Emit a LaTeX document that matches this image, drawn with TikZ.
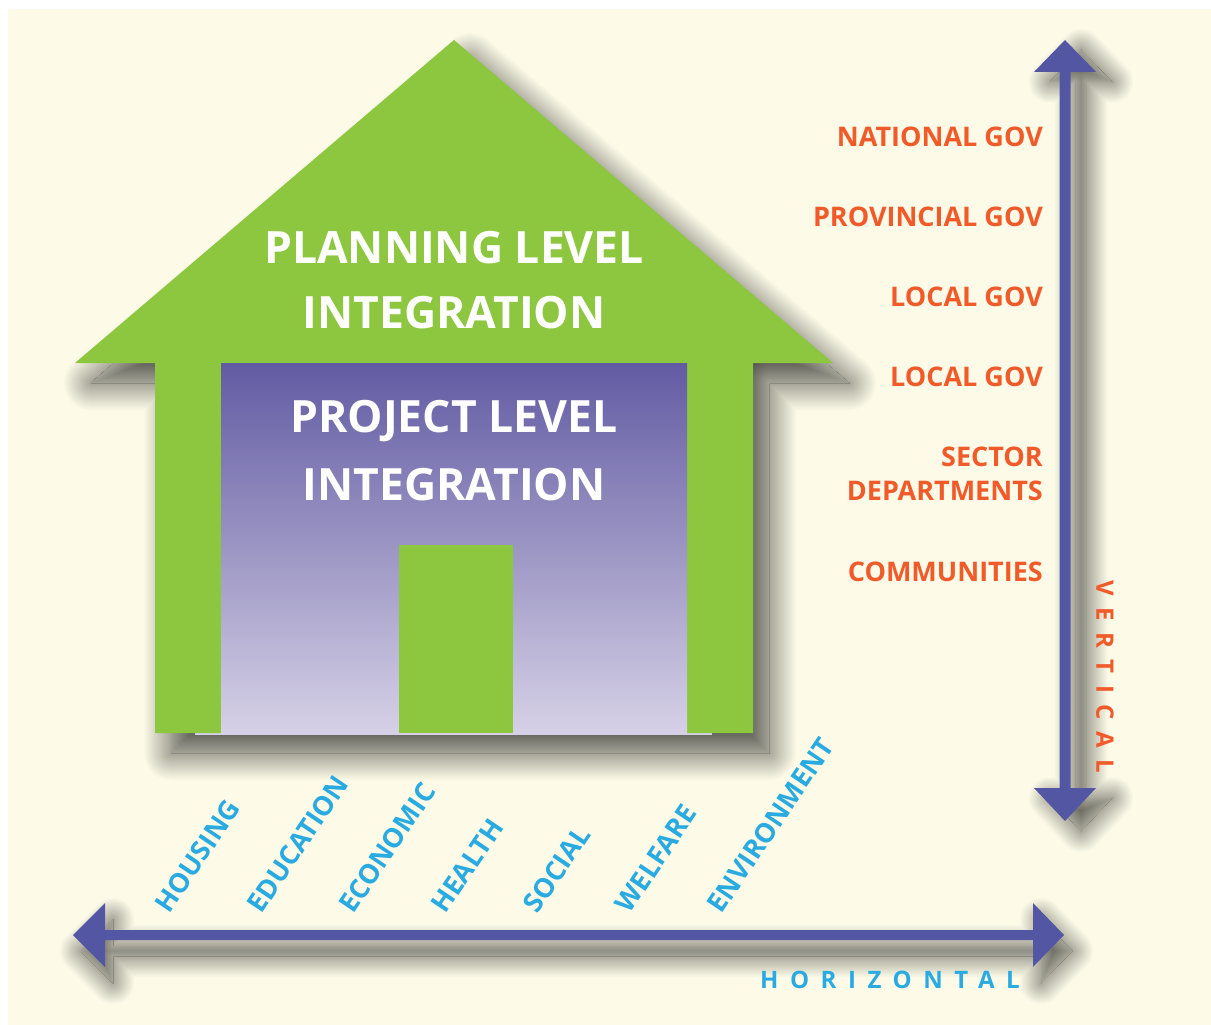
\documentclass[tikz,border=0pt]{standalone}
\usepackage{fontspec}
\setmainfont{Open Sans}
\definecolor{cream}{RGB}{253,251,232}
\definecolor{hgreen}{RGB}{141,198,63}
\definecolor{arrowblue}{RGB}{83,86,163}
\definecolor{ptop}{RGB}{98,91,163}
\definecolor{pbot}{RGB}{214,209,230}
\definecolor{orangetxt}{RGB}{241,90,41}
\definecolor{bluetxt}{RGB}{41,171,226}
% opaque soft shadow on the flat cream ground: #1 = blur radius, #2 = max darkness, #3 = path
\newcommand\softshadow[3]{%
  \foreach \r in {#1,...,1}{%
    \pgfmathsetmacro\lw{2*\r}%
    \pgfmathsetmacro\p{#2*(#1-\r)/(2*#1)}%
    \filldraw[draw=black!\p!cream,fill=black!\p!cream,line width=\lw pt,line join=round] #3;}
  \begin{scope}
    \clip #3;
    \fill[black!#2!cream] #3;
    \foreach \r in {#1,...,1}{%
      \pgfmathsetmacro\lw{2*\r}%
      \pgfmathsetmacro\p{#2*(#1+\r)/(2*#1)}%
      \draw[black!\p!cream,line width=\lw pt,line join=round] #3;}
  \end{scope}}
\begin{document}
\begin{tikzpicture}[x=1pt,y=-1pt,
  titletxt/.style={font=\fontsize{44.5}{54}\selectfont\bfseries,text=white,inner sep=0pt},
  lvl/.style={anchor=east,font=\fontsize{27}{34}\selectfont\bfseries,text=orangetxt,align=right,inner sep=0pt},
  cat/.style={rotate=56,anchor=south west,font=\fontsize{27}{30}\selectfont\bfseries,text=bluetxt,inner sep=0pt},
  axislbl/.style={font=\fontsize{24}{28}\selectfont\bfseries,inner sep=0pt},
  arrowfill/.style={fill=arrowblue}]
\useasboundingbox (0,0) rectangle (1211,1025);
\fill[cream] (8,9) rectangle (1211,1025);

% shadows
\begin{scope}[shift={(16,20)}]
\softshadow{28}{70}{(75,363) -- (454,40) -- (833,363) -- (753,363) -- (753,733) -- (155,733) -- (155,363) -- cycle}
\end{scope}
\begin{scope}[shift={(16,10)}]
\softshadow{22}{68}{(1065,40) -- (1096,72) -- (1070.5,72) -- (1070.5,788) -- (1096,788) -- (1065,821) -- (1034,788) -- (1059.5,788) -- (1059.5,72) -- (1034,72) -- cycle}
\end{scope}
\begin{scope}[shift={(8,16)}]
\softshadow{22}{68}{(73,935) -- (105,903) -- (105,930) -- (1033,930) -- (1033,903) -- (1064,935) -- (1033,967) -- (1033,940) -- (105,940) -- (105,967) -- cycle}
\end{scope}

% house
\fill[pbot] (195,731) rectangle (712,735);
\fill[hgreen] (75,363) -- (454,40) -- (833,363) -- (753,363) -- (753,733) -- (155,733) -- (155,363) -- cycle;
\shade[top color=ptop,bottom color=pbot] (221,363) rectangle (687,733);
\fill[hgreen] (399,545) rectangle (513,733);

% arrows
\fill[arrowfill] (1065,40) -- (1096,72) -- (1070.5,72) -- (1070.5,788) -- (1096,788) -- (1065,821) -- (1034,788) -- (1059.5,788) -- (1059.5,72) -- (1034,72) -- cycle;
\fill[arrowfill] (73,935) -- (105,903) -- (105,930) -- (1033,930) -- (1033,903) -- (1064,935) -- (1033,967) -- (1033,940) -- (105,940) -- (105,967) -- cycle;

% titles
\node[titletxt] (plan1) at (454,248) {PLANNING LEVEL};
\node[titletxt] (plan2) at (454,313) {INTEGRATION};
\node[titletxt] (proj1) at (454,421) {PROJECT LEVEL};
\node[titletxt] (proj2) at (454,485) {INTEGRATION};

% vertical levels
\node[lvl] (natgov) at (1043,137) {NATIONAL GOV};
\node[lvl] (provgov) at (1043,217) {PROVINCIAL GOV};
\node[lvl] (locgova) at (1043,297) {LOCAL GOV};
\node[lvl] (locgovb) at (1043,377) {LOCAL GOV};
\node[lvl] (sector) at (1043,474) {SECTOR\\DEPARTMENTS};
\node[lvl] (comm) at (1043,572) {COMMUNITIES};

% horizontal categories
\node[cat] (housing) at (170,915) {HOUSING};
\node[cat] (education) at (262,915) {EDUCATION};
\node[cat] (economic) at (354,915) {ECONOMIC};
\node[cat] (health) at (446,915) {HEALTH};
\node[cat] (social) at (538,915) {SOCIAL};
\node[cat] (welfare) at (630,915) {WELFARE};
\node[cat] (environment) at (722,915) {ENVIRONMENT};

% axis labels
\node[axislbl,text=bluetxt,anchor=west] (horiz) at (760,980) {\addfontfeatures{LetterSpace=48}HORIZONTAL};
\node[axislbl,text=orangetxt,anchor=west,rotate=-90] (vert) at (1105,580) {\addfontfeatures{LetterSpace=48}VERTICAL};
\end{tikzpicture}
\end{document}
